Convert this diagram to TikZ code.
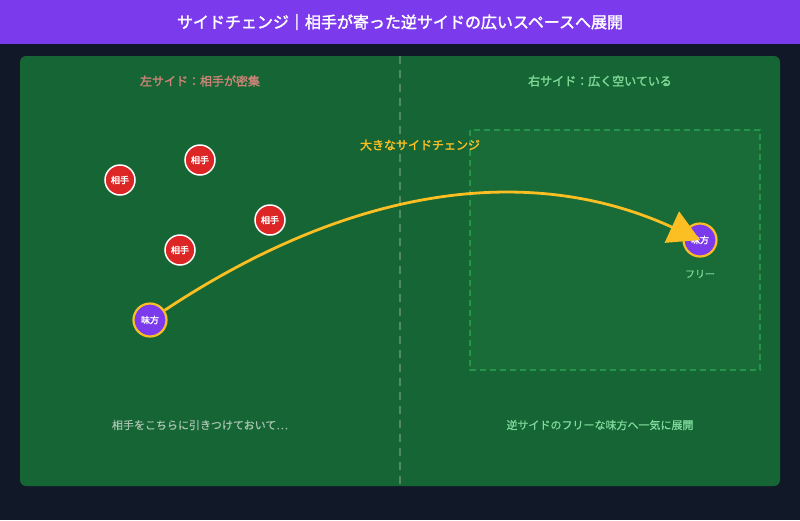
\documentclass[tikz,border=0pt]{standalone}
\usepackage{fontspec}
\setmainfont{Noto Sans CJK JP}
\newfontfamily\jpb{Noto Sans CJK JP}[FakeBold=2]
\newfontfamily\jpm{Noto Sans CJK JP}[FakeBold=0.6]
\usetikzlibrary{arrows.meta}
\definecolor{bgdark}{HTML}{111827}
\definecolor{titlebar}{HTML}{7C3AED}
\definecolor{field}{HTML}{166534}
\definecolor{zonefill}{HTML}{196C38}
\definecolor{zoneline}{HTML}{23944A}
\definecolor{midline}{HTML}{4F8A63}
\definecolor{oppred}{HTML}{DC2626}
\definecolor{allypurple}{HTML}{7C3AED}
\definecolor{gold}{HTML}{FBBF24}
\definecolor{lefthead}{RGB}{205,132,120}
\definecolor{righthead}{RGB}{125,215,150}
\definecolor{leftfoot}{RGB}{168,196,176}
\definecolor{rightfoot}{RGB}{128,220,158}
\tikzset{
  opp/.style={circle, fill=oppred, draw=white, line width=1.5pt, minimum size=30pt, inner sep=0pt, text=white, font=\fontsize{9}{9}\selectfont\jpb},
  ally/.style={circle, fill=allypurple, draw=gold, line width=2.2pt, minimum size=33pt, inner sep=0pt, text=white, font=\fontsize{9}{9}\selectfont\jpb},
  head/.style={font=\fontsize{12}{12}\selectfont\jpb},
  foot/.style={font=\fontsize{11}{11}\selectfont\jpm},
}
\begin{document}
\begin{tikzpicture}[x=1pt,y=-1pt]
\useasboundingbox (0,0) rectangle (800,520);
\fill[bgdark] (0,0) rectangle (800,520);
\fill[titlebar] (0,0) rectangle (800,44);
\node[text=white, font=\fontsize{16}{16}\selectfont\jpb] (title) at (400,22) {サイドチェンジ｜相手が寄った逆サイドの広いスペースへ展開};
\fill[field, rounded corners=6pt] (20,56) rectangle (780,486);
\draw[midline, line width=1.2pt, dash pattern=on 8pt off 6pt] (400,56) -- (400,486);
\draw[zoneline, fill=zonefill, line width=1.2pt, dash pattern=on 6pt off 4pt] (470,130) rectangle (760,370);
\node[head, text=lefthead] (lh) at (200,81) {左サイド：相手が密集};
\node[head, text=righthead] (rh) at (600,81) {右サイド：広く空いている};
\node[opp] (o1) at (120,180) {相手};
\node[opp] (o2) at (200,160) {相手};
\node[opp] (o3) at (270,220) {相手};
\node[opp] (o4) at (180,250) {相手};
\node[ally] (a1) at (150,320) {味方};
\node[ally] (a2) at (700,240) {味方};
\node[font=\fontsize{10}{10}\selectfont\jpm, text=righthead] (free) at (700,274) {フリー};
\coordinate (c1) at (352,186);
\coordinate (c2) at (530,162);
\draw[gold, line width=2.8pt, -{Triangle[length=31pt, width=34pt]}] (a1) .. controls (c1) and (c2) .. (a2.center);
\node[head, text=gold] (ch) at (420,145) {大きなサイドチェンジ};
\node[foot, text=leftfoot] (lf) at (200,425) {相手をこちらに引きつけておいて…};
\node[foot, text=rightfoot] (rf) at (600,425) {逆サイドのフリーな味方へ一気に展開};
\end{tikzpicture}
\end{document}
